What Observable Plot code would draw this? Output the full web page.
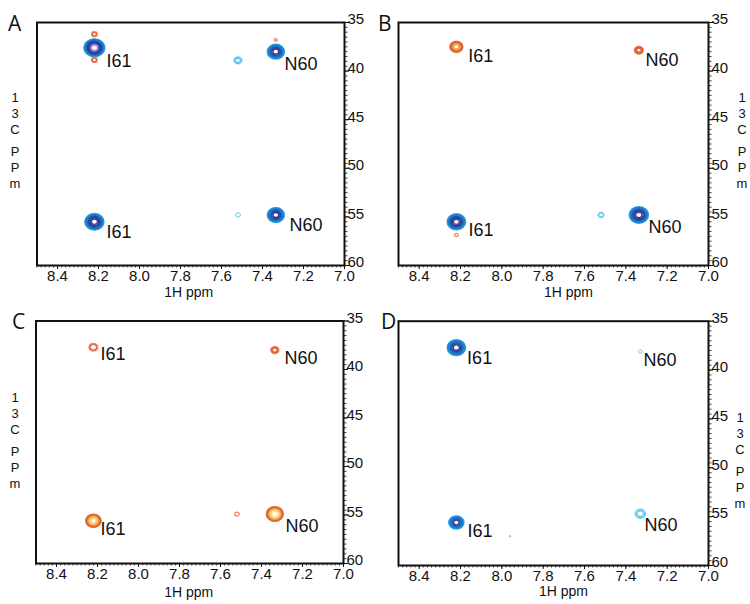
<!DOCTYPE html>
<html>
<head>
<meta charset="utf-8">
<script src="https://cdn.jsdelivr.net/npm/d3@7"></script>
<script src="https://cdn.jsdelivr.net/npm/@observablehq/plot@0.6"></script>
<style>
  body { margin: 0; background: #fff; }
  #chart { position: relative; width: 750px; height: 604px; overflow: hidden; background: #fff; }
  #chart svg { position: absolute; }
  .ylab { position: absolute; width: 16px; text-align: center; font-family: Arial, 'Liberation Sans', sans-serif; font-size: 13px; color: #111; }
  .ylab span { display: block; height: 16px; line-height: 16px; }
  .ylab span.gap { height: 6px; }
  .letter { position: absolute; font-family: 'Open Sans', sans-serif; font-size: 21px; line-height: 21px; color: #111; }
</style>
</head>
<body>
<div id="chart"></div>
<script>
// ---------------- data ----------------
const panelIds = ["A", "B", "C", "D"];
const xTickLabels = [8.4, 8.2, 8.0, 7.8, 7.6, 7.4, 7.2, 7.0];
const yTickLabels = [35, 40, 45, 50, 55, 60];
const xAxisTitle = "1H ppm";
const yAxisTitle = ["1", "3", "C", "", "P", "P", "m"];

// peaks: panel, 1H ppm, 13C ppm, kind (pos = blue, neg = red, weak = cyan), half-width (ppm), contour levels
const peakPanel  = ["A","A","A","A","A","A","A","A","A", "B","B","B","B","B","B", "C","C","C","C","C", "D","D","D","D","D"];
const peakH      = [8.22, 8.22, 8.22, 7.52, 7.335, 7.335, 8.22, 7.52, 7.335,
                    8.22, 7.337, 8.22, 8.22, 7.52, 7.337,
                    8.22, 7.335, 8.22, 7.52, 7.335,
                    8.22, 7.33, 8.22, 7.96, 7.33];
const peakC      = [37.6, 36.2, 38.85, 38.9, 38.0, 36.8, 55.5, 54.8, 54.8,
                    37.5, 37.85, 55.5, 56.85, 54.8, 54.8,
                    37.7, 38.0, 55.6, 54.9, 54.9,
                    37.7, 38.1, 55.6, 57.0, 54.7];
const peakKind   = ["pos","neg","neg","weak","pos","neg","pos","weak","pos",
                    "neg","neg","pos","neg","weak","pos",
                    "neg","neg","neg","neg","neg",
                    "pos","weak","pos","weak","weak"];
const peakWidth  = [0.051, 0.014, 0.014, 0.020, 0.042, 0.007, 0.047, 0.012, 0.042,
                    0.032, 0.022, 0.045, 0.009, 0.015, 0.047,
                    0.022, 0.020, 0.038, 0.011, 0.042,
                    0.045, 0.009, 0.037, 0.004, 0.026];
const peakLevels = [12, 2, 2, 3, 9, 1, 10, 1, 9,
                    7, 4, 10, 1, 2, 10,
                    2, 3, 9, 1, 10,
                    9, 1, 8, 1, 3];

// residue labels
const labelPanel = ["A","A","A","A", "B","B","B","B", "C","C","C","C", "D","D","D","D"];
const labelText  = ["I61","N60","I61","N60", "I61","N60","I61","N60", "I61","N60","I61","N60", "I61","N60","I61","N60"];
const labelH     = [8.161, 7.293, 8.161, 7.268, 8.163, 7.305, 8.161, 7.290, 8.185, 7.288, 8.185, 7.283, 8.168, 7.315, 8.166, 7.310];
const labelC     = [38.95, 39.26, 56.58, 55.86, 38.43, 38.88, 56.37, 56.06, 38.45, 38.87, 56.50, 56.19, 38.76, 38.97, 56.50, 55.85];

// ---------------- styling / layout ----------------
const bluePal = ["#35aae8","#2298dc","#1a8cd6","#1a84d2","#1b7acb","#1f6cc0","#2652aa","#283f97","#2a3890","#34409a","#5a64b8","#9a98d6","#d4d0f0"];
const redPal  = ["#ee8a6a","#e4683e","#e05a2c","#e06430","#e67838","#ec9242","#f2ae52","#f6c868","#f8dc88","#fbeaaa","#fdf4d0"];
const cyanPal = ["#3cc6ee","#30b6e6","#2aa8de"];
function ringColor(d) {
  const pal = d.kind === "pos" ? bluePal : d.kind === "neg" ? redPal : cyanPal;
  return pal[Math.min(d.j - 1, pal.length - 1)];
}
// slightly flattened contour shape (peaks are broader in 1H than in 13C on this plot)
const flatRing = {
  draw(context, size) {
    const r = Math.sqrt(size / Math.PI), rx = r, ry = r * 0.86, k = 0.5523;
    context.moveTo(rx, 0);
    context.bezierCurveTo(rx, ry * k, rx * k, ry, 0, ry);
    context.bezierCurveTo(-rx * k, ry, -rx, ry * k, -rx, 0);
    context.bezierCurveTo(-rx, -ry * k, -rx * k, -ry, 0, -ry);
    context.bezierCurveTo(rx * k, -ry, rx, -ry * k, rx, 0);
    context.closePath();
  }
};

const layout = {
  A: {left: 0,   top: 0,   w: 375, h: 300, ml: 36.5, mr: 31, mt: 22,   mb: 35, tdx: -2, tdy: 31, yl: 7,   yt: 90,  lx: 8,   ly: 13},
  B: {left: 375, top: 0,   w: 375, h: 304, ml: 23,   mr: 42, mt: 22,   mb: 39, tdx: 15, tdy: 31, yl: 734, yt: 90,  lx: 378, ly: 13},
  C: {left: 0,   top: 300, w: 375, h: 304, ml: 35.5, mr: 32, mt: 20.5, mb: 41, tdx: -1, tdy: 33, yl: 7,   yt: 390, lx: 12,  ly: 311},
  D: {left: 375, top: 300, w: 375, h: 304, ml: 23,   mr: 42, mt: 20.7, mb: 39, tdx: 10, tdy: 30.5, yl: 732, yt: 410, lx: 381, ly: 311}
};

// contour rings built from the peak table
const rings = [];
peakPanel.forEach((p, i) => {
  const n = peakLevels[i];
  for (let j = 1; j <= n; j++) {
    rings.push({panel: p, h: peakH[i], c: peakC[i], kind: peakKind[i], j, w: peakWidth[i] * Math.sqrt((n - j + 1) / n)});
  }
});
const labels = labelPanel.map((p, i) => ({panel: p, text: labelText[i], h: labelH[i], c: labelC[i]}));

const xMinor = d3.range(700, 851, 2).map(v => v / 100);
const yMinor = d3.range(70, 121, 1).map(v => v / 2);

const chart = document.getElementById("chart");
const font = "Arial, 'Liberation Sans', Helvetica, sans-serif";

panelIds.forEach(id => {
  const L = layout[id];
  const pxPerPpm = (L.w - L.ml - L.mr) / 1.5;
  const svg = Plot.plot({
    width: L.w, height: L.h,
    marginLeft: L.ml, marginRight: L.mr, marginTop: L.mt, marginBottom: L.mb,
    x: {domain: [8.5, 7.0], label: null},
    y: {domain: [35, 60], reverse: true, label: null},
    r: {type: "linear", domain: [0, 0.05], range: [0, 0.05 * pxPerPpm]},
    color: {type: "identity"},
    style: {fontFamily: font, fontSize: "15px", color: "#111", background: "transparent"},
    marks: [
      // x axis: minor ticks, major ticks, then labels
      Plot.axisX(xMinor, {anchor: "bottom", tickSize: 2.5, text: null, label: null, strokeWidth: 0.8}),
      Plot.axisX(xTickLabels, {anchor: "bottom", tickSize: 4, text: null, label: null}),
      Plot.axisX(xTickLabels, {anchor: "bottom", tickSize: 0, tickPadding: 5, tickFormat: d => d.toFixed(1), label: null, fontSize: 15, fontFamily: font}),
      // y axis (right): minor ticks, major ticks, then labels
      Plot.axisY(yMinor, {anchor: "right", tickSize: 2.5, text: null, label: null, strokeWidth: 0.8}),
      Plot.axisY(yTickLabels, {anchor: "right", tickSize: 4, text: null, label: null}),
      Plot.axisY(yTickLabels, {anchor: "right", tickSize: 0, tickPadding: 3, dy: -3, label: null, fontSize: 15, fontFamily: font}),
      Plot.dot(rings.filter(d => d.panel === id && d.kind !== "weak"), {x: "h", y: "c", r: "w", symbol: flatRing, stroke: ringColor, fill: "none", strokeWidth: 1.3}),
      Plot.dot(rings.filter(d => d.panel === id && d.kind === "weak"), {x: "h", y: "c", r: "w", symbol: flatRing, stroke: ringColor, fill: "none", strokeWidth: 0.9}),
      Plot.frame({stroke: "#111", strokeWidth: 2}),
      Plot.text(labels.filter(d => d.panel === id), {x: "h", y: "c", text: "text", textAnchor: "start", fontSize: 18, fontFamily: font, fill: "#111"}),
      Plot.text([xAxisTitle], {frameAnchor: "bottom", dx: L.tdx, dy: L.tdy, fontSize: 14, fontFamily: font, fill: "#111"})
    ]
  });
  svg.style.left = L.left + "px";
  svg.style.top = L.top + "px";
  chart.appendChild(svg);

  const yl = document.createElement("div");
  yl.className = "ylab";
  yl.style.left = L.yl + "px";
  yl.style.top = L.yt + "px";
  yAxisTitle.forEach(ch => {
    const s = document.createElement("span");
    if (ch === "") s.className = "gap"; else s.textContent = ch;
    yl.appendChild(s);
  });
  chart.appendChild(yl);

  const lt = document.createElement("div");
  lt.className = "letter";
  lt.style.left = L.lx + "px";
  lt.style.top = L.ly + "px";
  lt.textContent = id;
  chart.appendChild(lt);
});
</script>
</body>
</html>
